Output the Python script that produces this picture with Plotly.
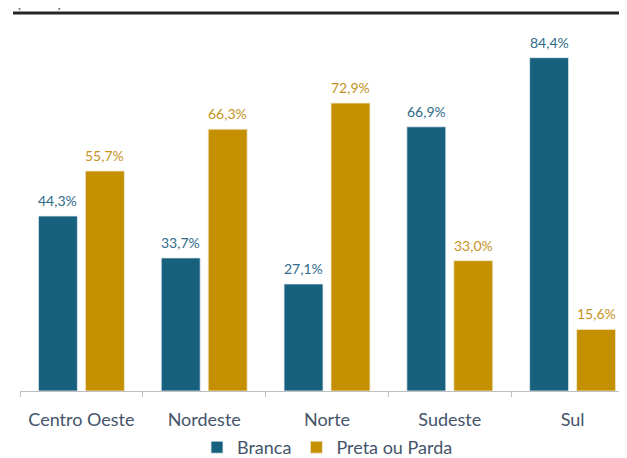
import plotly.graph_objects as go

regioes = ["Centro Oeste", "Nordeste", "Norte", "Sudeste", "Sul"]
branca = [44.3, 33.7, 27.1, 66.9, 84.4]
preta_parda = [55.7, 66.3, 72.9, 33.0, 15.6]

AZUL = "#17607E"
OURO = "#C49000"

fig = go.Figure()
fig.add_trace(go.Bar(
    x=regioes, y=branca, name="Branca",
    marker=dict(color=AZUL, line=dict(color="#E8EEF2", width=0.8)),
))
fig.add_trace(go.Bar(
    x=regioes, y=preta_parda, name="Preta ou Parda",
    marker=dict(color=OURO, line=dict(color="#F3EAD6", width=0.8)),
))

# rótulos de dados um pouco acima das barras
for serie, desloc, cor in [(branca, -23.5, "#2F6B89"), (preta_parda, 23.5, "#C5921E")]:
    for reg, val in zip(regioes, serie):
        fig.add_annotation(x=reg, y=val, text=f"{val:.1f}%".replace(".", ","),
                           xshift=desloc, yshift=5, yanchor="bottom",
                           showarrow=False, font=dict(size=14, color=cor))

# régua do cabeçalho (a página desloca tudo 8px pela margem do body)
fig.add_shape(type="line", xref="paper", yref="paper",
              x0=-0.0114, x1=1.0, y0=1.047, y1=1.047,
              line=dict(color="#262626", width=3))
fig.add_annotation(text="(Em %)", xref="paper", yref="paper",
                   x=-0.008, y=1.078, xanchor="left", yanchor="middle",
                   showarrow=False, font=dict(size=15, color="#595959"))

fig.update_layout(
    width=627, height=458,
    margin=dict(l=12, r=0, t=22, b=74),
    paper_bgcolor="white", plot_bgcolor="white",
    font=dict(family="Lato, Open Sans, sans-serif", color="#44546A"),
    barmode="group", bargap=0.235, bargroupgap=0.17,
    showlegend=True,
    legend=dict(orientation="h", xanchor="center", x=0.50,
                yanchor="middle", y=-0.155,
                font=dict(size=18, color="#44546A"),
                itemwidth=30, traceorder="normal"),
)
fig.update_xaxes(
    range=[-0.5, 4.508], showline=True, linecolor="#BFBFBF", linewidth=1,
    ticks="outside", tickson="boundaries", ticklen=5, tickcolor="#BFBFBF",
    tickfont=dict(size=18, color="#44546A"), ticklabelstandoff=12,
    showgrid=False, automargin=False
)
fig.update_yaxes(range=[0, 91.4], visible=False, showgrid=False,
                 automargin=False)

fig.write_html("out.html")
